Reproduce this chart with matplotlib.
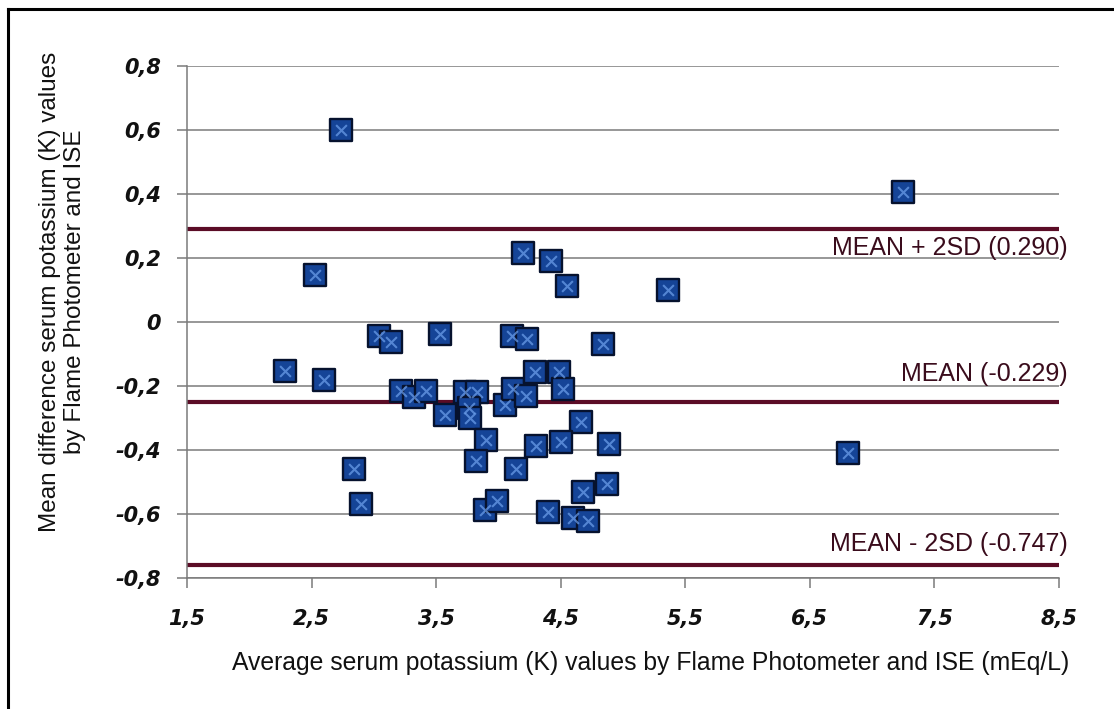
import numpy as np
import matplotlib
matplotlib.use("Agg")
import matplotlib.pyplot as plt
from matplotlib.lines import Line2D

# --- Data ---
avg_k = [2.74, 7.25, 2.53, 4.20, 4.42, 4.55, 5.36,
         3.04, 3.14, 3.53, 4.11, 4.23, 4.84,
         2.29, 2.60, 3.22, 3.32, 3.42, 3.73, 3.83, 3.57, 3.76, 3.77,
         4.05, 4.12, 4.22, 4.29, 4.49, 4.52, 4.66,
         3.90, 4.30, 4.50, 4.89, 2.84, 3.82, 4.14, 6.81,
         2.90, 3.89, 3.99, 4.40, 4.60, 4.72, 4.68, 4.87]
diff_k = [0.600, 0.405, 0.147, 0.215, 0.190, 0.113, 0.100,
          -0.044, -0.063, -0.039, -0.044, -0.052, -0.070,
          -0.152, -0.180, -0.215, -0.235, -0.216, -0.220, -0.220, -0.290, -0.270, -0.300,
          -0.260, -0.210, -0.230, -0.157, -0.157, -0.210, -0.313,
          -0.370, -0.387, -0.376, -0.380, -0.458, -0.434, -0.460, -0.408,
          -0.570, -0.589, -0.560, -0.594, -0.611, -0.622, -0.531, -0.507]

limit_levels = [0.29, -0.25, -0.76]
limit_labels = ["MEAN + 2SD (0.290)", "MEAN (-0.229)", "MEAN - 2SD (-0.747)"]

x_ticks = [1.5, 2.5, 3.5, 4.5, 5.5, 6.5, 7.5, 8.5]
y_ticks = [-0.8, -0.6, -0.4, -0.2, 0, 0.2, 0.4, 0.6, 0.8]

maroon = "#5b0c26"
grid_grey = "#7a7a7a"

fig = plt.figure(figsize=(11.14, 7.09), dpi=100)
ax = fig.add_axes([0.1679, 0.1848, 0.7827, 0.7221])

ax.set_xlim(1.5, 8.5)
ax.set_ylim(-0.8, 0.8)

# horizontal gridlines
for yv in y_ticks:
    ax.axhline(yv, color=grid_grey, lw=1.1, zorder=1)

# limits of agreement
for lvl in limit_levels:
    ax.axhline(lvl, color=maroon, lw=3.0, zorder=2)

# bevelled square markers
ax.scatter(avg_k, diff_k, marker="s", s=250, facecolor="#154497",
           edgecolor="#06122e", linewidths=1.7, zorder=3)
ax.scatter(avg_k, diff_k, marker="x", s=60, color="#6fa2ee",
           linewidths=1.5, alpha=0.7, zorder=4)

# labels on the limit lines
offsets = [-13.5, 20, 15]
for lvl, lab, off in zip(limit_levels, limit_labels, offsets):
    ax.annotate(lab, xy=(1.01, lvl), xycoords=ax.get_yaxis_transform(),
                xytext=(0, off), textcoords="offset points",
                ha="right", va="center", fontsize=18,
                family="Liberation Sans", color="#3a0c1c")

# axes styling
for side in ["top", "right"]:
    ax.spines[side].set_visible(False)
for side in ["left", "bottom"]:
    ax.spines[side].set_color(grid_grey)
    ax.spines[side].set_linewidth(1.1)

ax.set_xticks(x_ticks)
ax.set_yticks(y_ticks)
ax.set_xticklabels([("%g" % v).replace(".", ",") for v in x_ticks])
ax.set_yticklabels([("%g" % v).replace(".", ",") for v in y_ticks])
ax.tick_params(axis="both", direction="out", length=7, width=1.1,
               color=grid_grey, labelsize=15)
ax.tick_params(axis="x", pad=15)
ax.tick_params(axis="y", pad=12)
for t in ax.get_xticklabels() + ax.get_yticklabels():
    t.set_fontweight("bold")
    t.set_fontstyle("italic")
    t.set_family("DejaVu Sans")
    t.set_color("#111111")

ax.set_xlabel("Average serum potassium (K) values by Flame Photometer and ISE (mEq/L)",
              fontsize=17.8, family="Liberation Sans", color="#111111")
ax.xaxis.set_label_coords(0.532, -0.166)
ax.xaxis.label.set_va("center")
ax.set_ylabel("Mean difference serum potassium (K) values\nby Flame Photometer and ISE",
              fontsize=17.5, family="Liberation Sans", color="#111111",
              linespacing=1.2)
ax.yaxis.set_label_coords(-0.143, 0.559)
ax.yaxis.label.set_va("center")

# frame lines on the top and left edge of the picture
fig.add_artist(Line2D([0.0076, 1.0], [0.9873, 0.9873], color="black", lw=2.2))
fig.add_artist(Line2D([0.0076, 0.0076], [0.0, 0.9873], color="black", lw=2.2))

fig.savefig("out.png", dpi=100)
